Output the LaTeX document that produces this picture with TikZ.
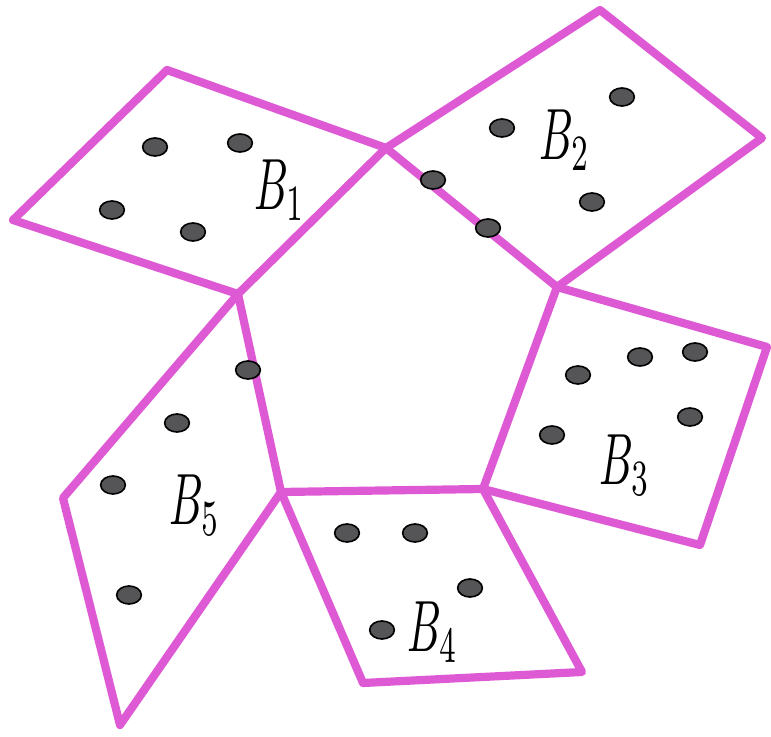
\documentclass[tikz,border=0pt]{standalone}
\usepackage{tikz}
\usetikzlibrary{shapes}

\definecolor{pinkline}{RGB}{222,90,212}
\definecolor{dotgrey}{RGB}{85,85,88}

\begin{document}
\begin{tikzpicture}[
    x=0.03cm, y=-0.03cm,
    box/.style={draw=pinkline, line width=7pt, line join=round, line cap=round},
    dot/.style={ellipse, draw=black, line width=1.4pt, fill=dotgrey, minimum width=0.74cm, minimum height=0.54cm, inner sep=0pt},
    lab/.style={xscale=3.6, yscale=6.2, transform shape, inner sep=0pt}
]
    \useasboundingbox (0,0) rectangle (771,737);

    % pentagon in the middle
    \coordinate (p1) at (386,148);
    \coordinate (p2) at (557,287);
    \coordinate (p3) at (483,489);
    \coordinate (p4) at (281,492);
    \coordinate (p5) at (238,294);

    % outer corners of the boxes
    \coordinate (b1a) at (167,70);
    \coordinate (b1b) at (13,220);
    \coordinate (b2a) at (600,10);
    \coordinate (b2b) at (762,138);
    \coordinate (b3a) at (767,347);
    \coordinate (b3b) at (700,545);
    \coordinate (b4a) at (582,672);
    \coordinate (b4b) at (363,683);
    \coordinate (b5a) at (120,725);
    \coordinate (b5b) at (63,498);

    \draw[box] (p1) -- (b1a) -- (b1b) -- (p5);
    \draw[box] (p1) -- (b2a) -- (b2b) -- (p2);
    \draw[box] (p2) -- (b3a) -- (b3b) -- (p3);
    \draw[box] (p3) -- (b4a) -- (b4b) -- (p4);
    \draw[box] (p4) -- (b5a) -- (b5b) -- (p5);
    \draw[box] (p1) -- (p2) -- (p3) -- (p4) -- (p5) -- cycle;

    % B1
    \node[dot] (d11) at (155,147) {};
    \node[dot] (d12) at (240,143) {};
    \node[dot] (d13) at (112,210) {};
    \node[dot] (d14) at (193,232) {};
    \node[lab] (l1) at (280,190) {$B_1$};

    % B2
    \node[dot] (d21) at (502,128) {};
    \node[dot] (d22) at (622,97) {};
    \node[dot] (d23) at (592,202) {};
    \node[dot] (d24) at (433,180) {};
    \node[dot] (d25) at (488,228) {};
    \node[lab] (l2) at (565,140) {$B_2$};

    % B3
    \node[dot] (d31) at (578,375) {};
    \node[dot] (d32) at (640,357) {};
    \node[dot] (d33) at (695,352) {};
    \node[dot] (d34) at (552,435) {};
    \node[dot] (d35) at (690,417) {};
    \node[lab] (l3) at (625,465) {$B_3$};

    % B4
    \node[dot] (d41) at (347,533) {};
    \node[dot] (d42) at (415,533) {};
    \node[dot] (d43) at (470,588) {};
    \node[dot] (d44) at (382,630) {};
    \node[lab] (l4) at (433,632) {$B_4$};

    % B5
    \node[dot] (d51) at (248,370) {};
    \node[dot] (d52) at (177,423) {};
    \node[dot] (d53) at (113,485) {};
    \node[dot] (d54) at (129,595) {};
    \node[lab] (l5) at (195,505) {$B_5$};
\end{tikzpicture}
\end{document}
